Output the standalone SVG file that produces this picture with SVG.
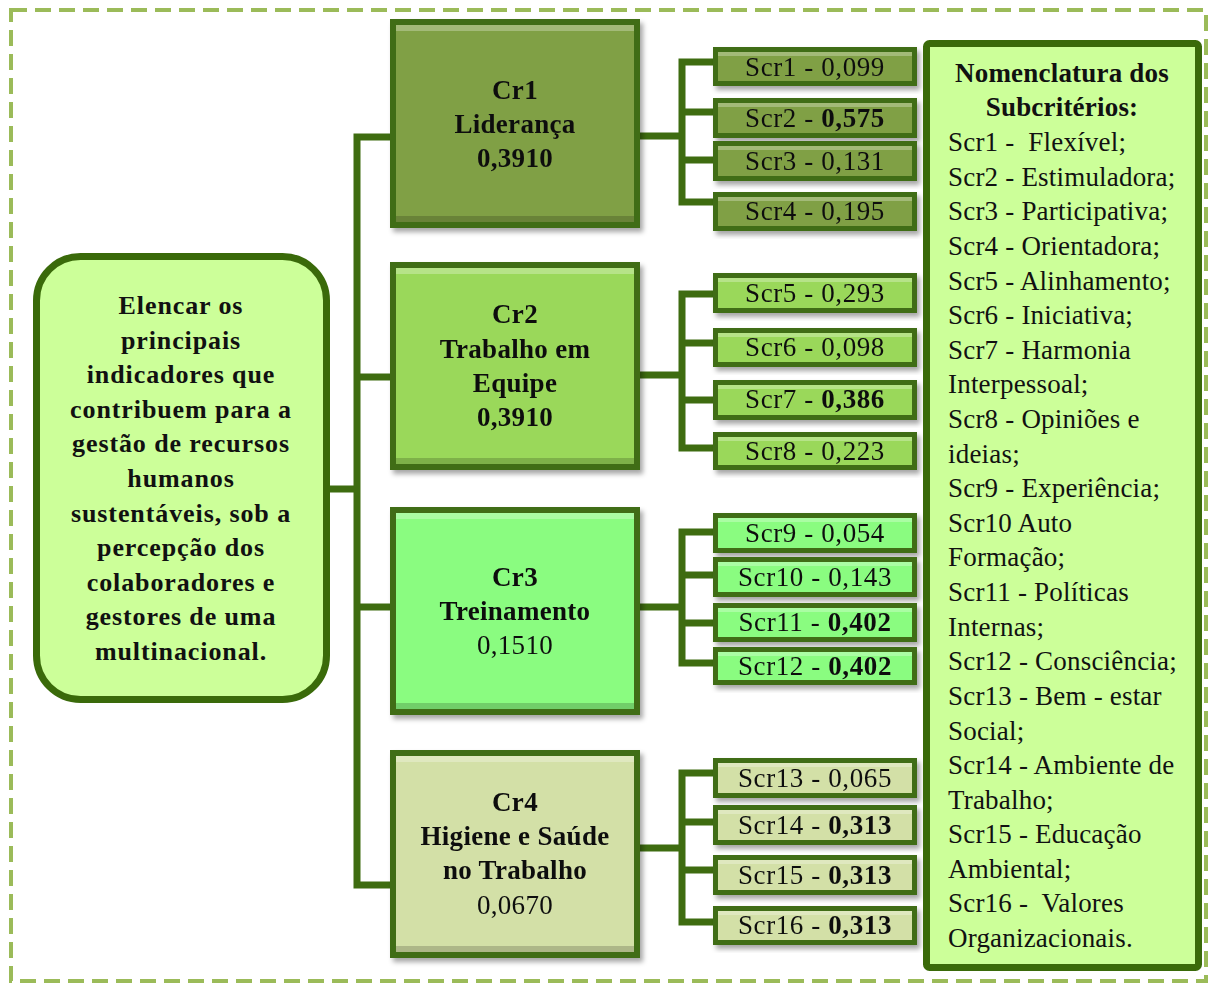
<svg xmlns="http://www.w3.org/2000/svg" width="1209" height="985" viewBox="0 0 1209 985">
<defs>
<filter id="sh" x="-10%" y="-10%" width="125%" height="130%"><feDropShadow dx="3" dy="4" stdDeviation="2.5" flood-color="#000" flood-opacity="0.35"/></filter>
</defs>
<style>
.t{font-family:"Liberation Serif","Times New Roman",serif;fill:#111;}
.b{font-weight:bold;}
.c{text-anchor:middle;}
.fr{font-size:26px;letter-spacing:0.9px;}
.fc{font-size:27px;letter-spacing:0.3px;}
.fs{font-size:27px;letter-spacing:0.6px;}
.fl{font-size:27px;letter-spacing:0.2px;}
.con{stroke:#3e6c10;stroke-width:7;fill:none;stroke-linecap:square;}
.frame{fill:#3f6d12;}
.hl{fill:#ffffff;opacity:0.28;}
.dk{fill:#000;opacity:0.18;}
.g1{fill:#80a045;}
.g2{fill:#9ad85a;}
.g3{fill:#8afc80;}
.g4{fill:#d3e0a7;}
</style>
<rect x="11" y="10" width="1195" height="971" fill="none" stroke="#9bbb59" stroke-width="4" stroke-dasharray="16 8"/>

<g id="connectors">
<path class="con" d="M330 489H357M357 137V885M357 137H390M357 377H390M357 607H390M357 885H390"/>
<path class="con" d="M640 136H682M682 62V202M682 62H713M682 112H713M682 160H713M682 202H713"/>
<path class="con" d="M640 375H682M682 294V448M682 294H713M682 343H713M682 400H713M682 448H713"/>
<path class="con" d="M640 607H682M682 532V663M682 532H713M682 575H713M682 623H713M682 663H713"/>
<path class="con" d="M640 848H682M682 773V922M682 773H713M682 822H713M682 870H713M682 922H713"/>
</g>

<g id="root">
<rect x="36.5" y="256.5" width="290" height="443" rx="44" fill="#ccff99" stroke="#3a6a0a" stroke-width="7"/>
<text class="t b c fr"><tspan x="181" y="314">Elencar os</tspan><tspan x="181" y="349">principais</tspan><tspan x="181" y="383">indicadores que</tspan><tspan x="181" y="418">contribuem para a</tspan><tspan x="181" y="452">gestão de recursos</tspan><tspan x="181" y="487">humanos</tspan><tspan x="181" y="522">sustentáveis, sob a</tspan><tspan x="181" y="556">percepção dos</tspan><tspan x="181" y="591">colaboradores e</tspan><tspan x="181" y="625">gestores de uma</tspan><tspan x="181" y="660">multinacional.</tspan></text>
</g>

<g id="cr1" filter="url(#sh)">
<rect class="frame" x="390" y="19" width="250" height="209"/>
<rect class="g1" x="396" y="25" width="238" height="197"/>
<rect class="hl" x="396" y="25" width="238" height="6"/>
<rect class="dk" x="396" y="216" width="238" height="6"/>
<text class="t b c fc"><tspan x="515" y="99">Cr1</tspan><tspan x="515" y="133">Liderança</tspan><tspan x="515" y="167">0,3910</tspan></text>
</g>
<g id="cr2" filter="url(#sh)">
<rect class="frame" x="390" y="262" width="250" height="208"/>
<rect class="g2" x="396" y="268" width="238" height="196"/>
<rect class="hl" x="396" y="268" width="238" height="6"/>
<rect class="dk" x="396" y="458" width="238" height="6"/>
<text class="t b c fc"><tspan x="515" y="323">Cr2</tspan><tspan x="515" y="358">Trabalho  em</tspan><tspan x="515" y="392">Equipe</tspan><tspan x="515" y="426">0,3910</tspan></text>
</g>
<g id="cr3" filter="url(#sh)">
<rect class="frame" x="390" y="507" width="250" height="208"/>
<rect class="g3" x="396" y="513" width="238" height="196"/>
<rect class="hl" x="396" y="513" width="238" height="6"/>
<rect class="dk" x="396" y="703" width="238" height="6"/>
<text class="t c fc"><tspan class="b" x="515" y="586">Cr3</tspan><tspan class="b" x="515" y="620">Treinamento</tspan><tspan x="515" y="654">0,1510</tspan></text>
</g>
<g id="cr4" filter="url(#sh)">
<rect class="frame" x="390" y="750" width="250" height="208"/>
<rect class="g4" x="396" y="756" width="238" height="196"/>
<rect class="hl" x="396" y="756" width="238" height="6"/>
<rect class="dk" x="396" y="946" width="238" height="6"/>
<text class="t c fc"><tspan class="b" x="515" y="811">Cr4</tspan><tspan class="b" x="515" y="845">Higiene e Saúde</tspan><tspan class="b" x="515" y="879">no Trabalho</tspan><tspan x="515" y="914">0,0670</tspan></text>
</g>

<g id="scr1" filter="url(#sh)"><rect class="frame" x="713" y="47" width="204" height="39"/><rect class="g1" x="718" y="52" width="194" height="29"/><rect class="hl" x="718" y="52" width="194" height="4"/><text class="t c fs" x="815" y="76">Scr1 - 0,099</text></g>
<g id="scr2" filter="url(#sh)"><rect class="frame" x="713" y="98" width="204" height="40"/><rect class="g1" x="718" y="103" width="194" height="30"/><rect class="hl" x="718" y="103" width="194" height="4"/><text class="t c fs" x="815" y="127">Scr2 - <tspan class="b">0,575</tspan></text></g>
<g id="scr3" filter="url(#sh)"><rect class="frame" x="713" y="141" width="204" height="40"/><rect class="g1" x="718" y="146" width="194" height="30"/><rect class="hl" x="718" y="146" width="194" height="4"/><text class="t c fs" x="815" y="170">Scr3 - 0,131</text></g>
<g id="scr4" filter="url(#sh)"><rect class="frame" x="713" y="192" width="204" height="39"/><rect class="g1" x="718" y="197" width="194" height="29"/><rect class="hl" x="718" y="197" width="194" height="4"/><text class="t c fs" x="815" y="220">Scr4 - 0,195</text></g>

<g id="scr5" filter="url(#sh)"><rect class="frame" x="713" y="273" width="204" height="40"/><rect class="g2" x="718" y="278" width="194" height="30"/><rect class="hl" x="718" y="278" width="194" height="4"/><text class="t c fs" x="815" y="302">Scr5 - 0,293</text></g>
<g id="scr6" filter="url(#sh)"><rect class="frame" x="713" y="328" width="204" height="39"/><rect class="g2" x="718" y="333" width="194" height="29"/><rect class="hl" x="718" y="333" width="194" height="4"/><text class="t c fs" x="815" y="356">Scr6 - 0,098</text></g>
<g id="scr7" filter="url(#sh)"><rect class="frame" x="713" y="380" width="204" height="40"/><rect class="g2" x="718" y="385" width="194" height="30"/><rect class="hl" x="718" y="385" width="194" height="4"/><text class="t c fs" x="815" y="408">Scr7 - <tspan class="b">0,386</tspan></text></g>
<g id="scr8" filter="url(#sh)"><rect class="frame" x="713" y="432" width="204" height="38"/><rect class="g2" x="718" y="437" width="194" height="28"/><rect class="hl" x="718" y="437" width="194" height="4"/><text class="t c fs" x="815" y="460">Scr8 - 0,223</text></g>

<g id="scr9" filter="url(#sh)"><rect class="frame" x="713" y="513" width="204" height="40"/><rect class="g3" x="718" y="518" width="194" height="30"/><rect class="hl" x="718" y="518" width="194" height="4"/><text class="t c fs" x="815" y="542">Scr9 - 0,054</text></g>
<g id="scr10" filter="url(#sh)"><rect class="frame" x="713" y="557" width="204" height="40"/><rect class="g3" x="718" y="562" width="194" height="30"/><rect class="hl" x="718" y="562" width="194" height="4"/><text class="t c fs" x="815" y="586">Scr10 - 0,143</text></g>
<g id="scr11" filter="url(#sh)"><rect class="frame" x="713" y="603" width="204" height="39"/><rect class="g3" x="718" y="608" width="194" height="29"/><rect class="hl" x="718" y="608" width="194" height="4"/><text class="t c fs" x="815" y="631">Scr11 - <tspan class="b">0,402</tspan></text></g>
<g id="scr12" filter="url(#sh)"><rect class="frame" x="713" y="647" width="204" height="38"/><rect class="g3" x="718" y="652" width="194" height="28"/><rect class="hl" x="718" y="652" width="194" height="4"/><text class="t c fs" x="815" y="675">Scr12 - <tspan class="b">0,402</tspan></text></g>

<g id="scr13" filter="url(#sh)"><rect class="frame" x="713" y="758" width="204" height="40"/><rect class="g4" x="718" y="763" width="194" height="30"/><rect class="hl" x="718" y="763" width="194" height="4"/><text class="t c fs" x="815" y="787">Scr13 - 0,065</text></g>
<g id="scr14" filter="url(#sh)"><rect class="frame" x="713" y="805" width="204" height="40"/><rect class="g4" x="718" y="810" width="194" height="30"/><rect class="hl" x="718" y="810" width="194" height="4"/><text class="t c fs" x="815" y="834">Scr14 - <tspan class="b">0,313</tspan></text></g>
<g id="scr15" filter="url(#sh)"><rect class="frame" x="713" y="855" width="204" height="40"/><rect class="g4" x="718" y="860" width="194" height="30"/><rect class="hl" x="718" y="860" width="194" height="4"/><text class="t c fs" x="815" y="884">Scr15 - <tspan class="b">0,313</tspan></text></g>
<g id="scr16" filter="url(#sh)"><rect class="frame" x="713" y="906" width="204" height="39"/><rect class="g4" x="718" y="911" width="194" height="29"/><rect class="hl" x="718" y="911" width="194" height="4"/><text class="t c fs" x="815" y="934">Scr16 - <tspan class="b">0,313</tspan></text></g>

<g id="legend">
<rect x="926.5" y="43.5" width="272" height="924" rx="3" fill="#ccff99" stroke="#3a6a0a" stroke-width="7"/>
<text class="t b c fl"><tspan x="1062" y="82">Nomenclatura dos</tspan><tspan x="1062" y="116">Subcritérios:</tspan></text>
<text class="t fl" xml:space="preserve"><tspan x="948" y="151">Scr1 -  Flexível;</tspan><tspan x="948" y="186">Scr2 - Estimuladora;</tspan><tspan x="948" y="220">Scr3 - Participativa;</tspan><tspan x="948" y="255">Scr4 - Orientadora;</tspan><tspan x="948" y="290">Scr5 - Alinhamento;</tspan><tspan x="948" y="324">Scr6 - Iniciativa;</tspan><tspan x="948" y="359">Scr7 - Harmonia</tspan><tspan x="948" y="393">Interpessoal;</tspan><tspan x="948" y="428">Scr8 - Opiniões e</tspan><tspan x="948" y="463">ideias;</tspan><tspan x="948" y="497">Scr9 - Experiência;</tspan><tspan x="948" y="532">Scr10 Auto</tspan><tspan x="948" y="566">Formação;</tspan><tspan x="948" y="601">Scr11 - Políticas</tspan><tspan x="948" y="636">Internas;</tspan><tspan x="948" y="670">Scr12 - Consciência;</tspan><tspan x="948" y="705">Scr13 - Bem - estar</tspan><tspan x="948" y="740">Social;</tspan><tspan x="948" y="774">Scr14 - Ambiente de</tspan><tspan x="948" y="809">Trabalho;</tspan><tspan x="948" y="843">Scr15 - Educação</tspan><tspan x="948" y="878">Ambiental;</tspan><tspan x="948" y="912">Scr16 -  Valores</tspan><tspan x="948" y="947">Organizacionais.</tspan></text>
</g>
</svg>
